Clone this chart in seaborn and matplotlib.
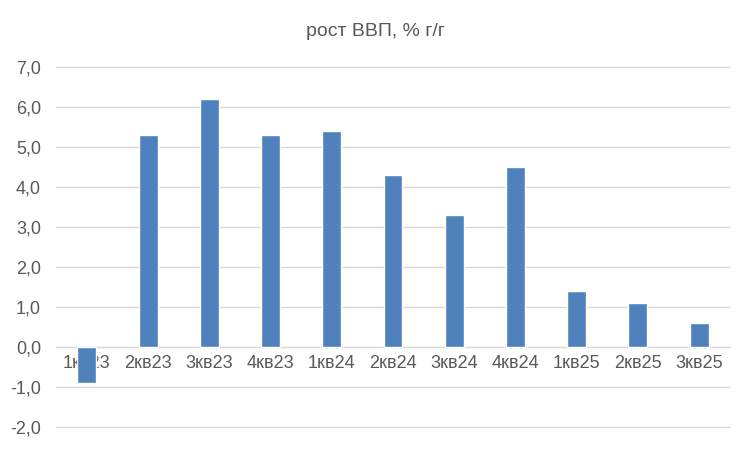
import matplotlib
matplotlib.use('Agg')
import matplotlib.pyplot as plt
import seaborn as sns
import pandas as pd

# Data
quarters = ['1кв23', '2кв23', '3кв23', '4кв23', '1кв24', '2кв24', '3кв24', '4кв24', '1кв25', '2кв25', '3кв25']
gdp_growth = [-0.9, 5.3, 6.2, 5.3, 5.4, 4.3, 3.3, 4.5, 1.4, 1.1, 0.6]
y_ticks = [-2, -1, 0, 1, 2, 3, 4, 5, 6, 7]

df = pd.DataFrame({'quarter': quarters, 'growth': gdp_growth})

sns.set_style('white')
plt.rcParams['font.family'] = ['Liberation Sans Narrow', 'Liberation Sans', 'DejaVu Sans']

fig = plt.figure(figsize=(7.5, 4.5), dpi=100)
ax = fig.add_axes([0.075, 0.049, 0.898, 0.804])

sns.barplot(data=df, x='quarter', y='growth', color='#4F81BD', saturation=1,
            width=0.31, ax=ax, zorder=3)

ax.set_ylim(-2.03, 7.02)
ax.set_yticks(y_ticks)
ax.set_yticklabels([f'{v:.1f}'.replace('.', ',') for v in y_ticks])
ax.yaxis.grid(True, color='#D9D9D9', linewidth=1, zorder=0)
ax.set_axisbelow(True)

for s in ['top', 'right', 'left']:
    ax.spines[s].set_visible(False)
ax.spines['bottom'].set_position(('data', 0))
ax.spines['bottom'].set_color('#D9D9D9')
ax.spines['bottom'].set_zorder(1)

ax.tick_params(axis='x', length=0, pad=6, labelsize=13, colors='#595959')
ax.tick_params(axis='y', length=0, pad=11, labelsize=13, colors='#595959')
for lbl in ax.get_xticklabels():
    lbl.set_zorder(5)
ax.set_xlabel('')
ax.set_ylabel('')

fig.suptitle('рост ВВП, % г/г', y=0.95, fontsize=14, color='#595959')

fig.savefig('out.png', dpi=100)
